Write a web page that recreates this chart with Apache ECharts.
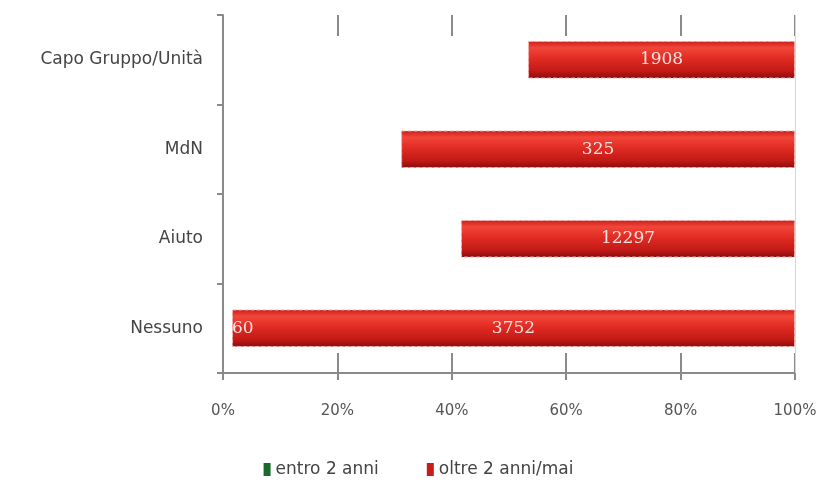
<!DOCTYPE html>
<html>
<head>
<meta charset="utf-8">
<script src="https://cdn.jsdelivr.net/npm/echarts@6/dist/echarts.min.js"></script>
<style>
  html, body { margin: 0; padding: 0; background: #ffffff; }
  #chart { width: 837px; height: 484px; }
</style>
</head>
<body>
<div id="chart"></div>
<script>
// Categories, top to bottom
const categories = ['Capo Gruppo/Unità', 'MdN', 'Aiuto', 'Nessuno'];
// Counts per group
const entro2Anni = [2180, 147, 8760, 60];
const oltre2Anni = [1908, 325, 12297, 3752];
// Percentage axis ticks
const pctTicks = [0, 20, 40, 60, 80, 100];

const seriesNames = ['entro 2 anni', 'oltre 2 anni/mai'];

// 100% stacked shares
const totals = categories.map((_, i) => entro2Anni[i] + oltre2Anni[i]);
const entroPct = entro2Anni.map((v, i) => v / totals[i] * 100);
const oltrePct = oltre2Anni.map((v, i) => v / totals[i] * 100);

const labelFont = 'DejaVu Sans, Verdana, sans-serif';
const valueFont = 'DejaVu Serif, serif';

const redFill = new echarts.graphic.LinearGradient(0, 0, 0, 1, [
  { offset: 0, color: '#c81c18' },
  { offset: 0.18, color: '#f2463a' },
  { offset: 0.45, color: '#e22c24' },
  { offset: 0.8, color: '#c21a16' },
  { offset: 1, color: '#8a0c0c' }
]);

const pctAxisBase = {
  type: 'value',
  min: pctTicks[0],
  max: pctTicks[pctTicks.length - 1],
  interval: 20,
  splitLine: { show: false }
};

const chart = echarts.init(document.getElementById('chart'), null, { renderer: 'canvas' });

chart.setOption({
  animation: false,
  backgroundColor: '#ffffff',
  grid: { left: 223, right: 42, top: 15, bottom: 111, containLabel: false },
  legend: {
    bottom: 1,
    left: 'center',
    itemWidth: 7,
    itemHeight: 13,
    itemGap: 48,
    icon: 'rect',
    textStyle: { fontFamily: labelFont, fontSize: 17, color: '#444' },
    data: [
      { name: seriesNames[0], itemStyle: { color: '#1b6a2c', borderWidth: 0 } },
      { name: seriesNames[1], itemStyle: { color: '#c81c18', borderWidth: 0 } }
    ]
  },
  xAxis: [
    Object.assign({}, pctAxisBase, {
      position: 'bottom',
      axisLine: { show: true, lineStyle: { color: '#8a8a8a', width: 2 } },
      axisTick: { show: true, inside: false, length: 7, lineStyle: { color: '#8a8a8a', width: 2 } },
      axisLabel: {
        margin: 31,
        fontFamily: labelFont,
        fontSize: 15,
        color: '#555',
        formatter: v => v + '%'
      }
    }),
    Object.assign({}, pctAxisBase, {
      position: 'bottom',
      axisLine: { show: false },
      axisTick: { show: true, inside: true, length: 20, lineStyle: { color: '#8a8a8a', width: 2 } },
      axisLabel: { show: false }
    }),
    Object.assign({}, pctAxisBase, {
      position: 'top',
      axisLine: { show: false },
      axisTick: { show: true, inside: true, length: 21, lineStyle: { color: '#8a8a8a', width: 2 } },
      axisLabel: { show: false }
    })
  ],
  yAxis: {
    type: 'category',
    inverse: true,
    data: categories,
    axisLine: { show: true, lineStyle: { color: '#8a8a8a', width: 2 } },
    axisTick: { show: true, length: 6, lineStyle: { color: '#8a8a8a', width: 2 } },
    axisLabel: {
      margin: 20,
      fontFamily: labelFont,
      fontSize: 17,
      color: '#444'
    }
  },
  series: [
    {
      name: seriesNames[0],
      type: 'bar',
      stack: 'tot',
      xAxisIndex: 0,
      barWidth: '42%',
      itemStyle: { color: 'rgba(0,0,0,0)' },
      data: entroPct.map((p, i) => ({
        value: p,
        label: {
          show: i === categories.length - 1,
          position: 'right',
          distance: 0,
          fontFamily: valueFont,
          fontSize: 17,
          color: '#f6e2e2',
          formatter: () => String(entro2Anni[i])
        }
      }))
    },
    {
      name: seriesNames[1],
      type: 'bar',
      stack: 'tot',
      xAxisIndex: 0,
      barWidth: '42%',
      itemStyle: {
        color: redFill,
        borderColor: '#f0b4b4',
        borderWidth: 1,
        borderType: 'dashed'
      },
      label: {
        show: true,
        position: 'inside',
        fontFamily: valueFont,
        fontSize: 17,
        color: '#f6e2e2',
        formatter: p => String(oltre2Anni[p.dataIndex])
      },
      data: oltrePct,
      markLine: {
        silent: true,
        symbol: 'none',
        label: { show: false },
        lineStyle: { color: '#d4d8de', width: 1, type: 'solid' },
        data: [{ xAxis: 100 }]
      }
    }
  ]
});
</script>
</body>
</html>
